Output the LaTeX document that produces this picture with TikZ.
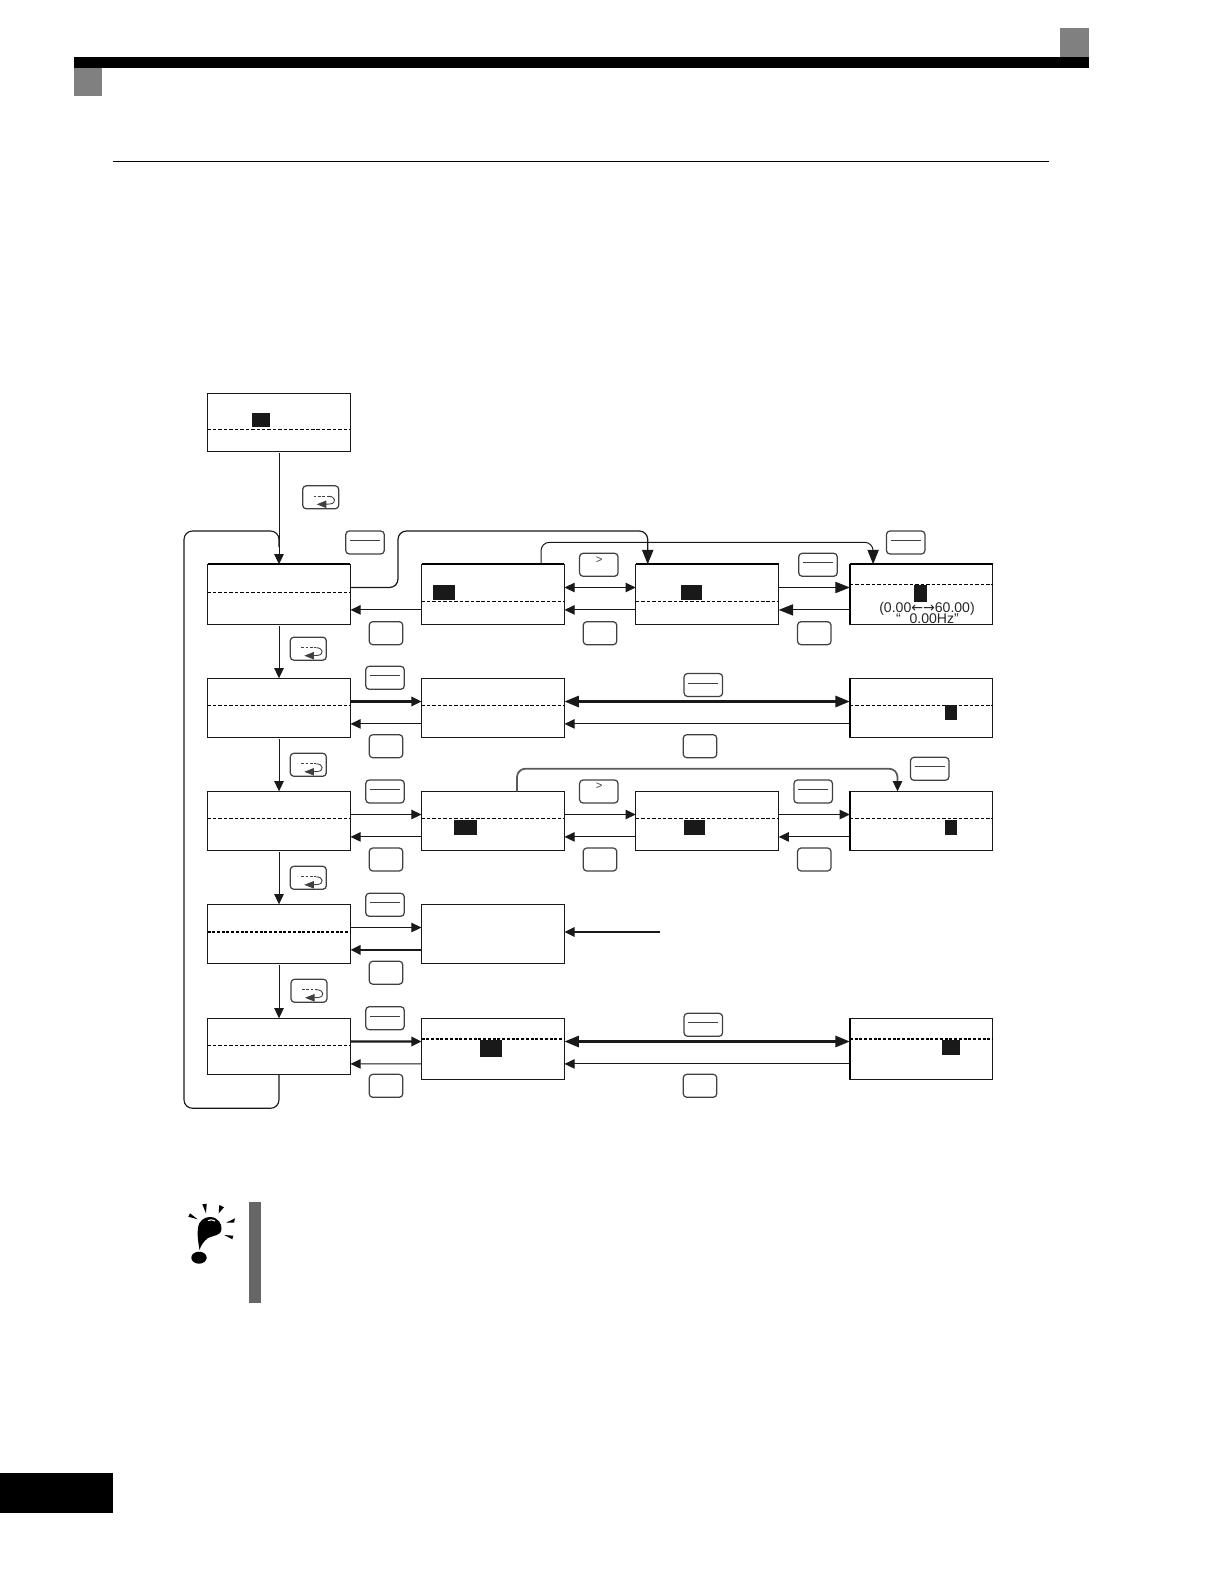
\documentclass[tikz,border=0pt]{standalone}
\usepackage{fontspec}
\setmainfont{Liberation Sans}
\newfontfamily\arrowfont{DejaVu Sans}
\usetikzlibrary{arrows.meta,calc}
\tikzset{
  lcdbox/.style={draw=black!90,line width=0.65pt,inner sep=0pt,outer sep=0pt,minimum width=2.86cm},
  cursorblock/.style={fill=black!90,inner sep=0pt,outer sep=0pt},
  keybox/.style={draw=black!75,line width=0.7pt,rounded corners=0.07cm,inner sep=0pt,outer sep=0pt,minimum height=0.46cm},
  enterkey/.style={keybox,minimum width=0.77cm,path picture={
    \draw[line width=0.5pt,shift={(path picture bounding box.center)}] (-15,-2) -- (15,-2);}},
  esckey/.style={keybox,minimum width=0.67cm},
  rightkey/.style={keybox,minimum width=0.77cm},
  tabkey/.style={keybox,minimum width=0.72cm,path picture={
    \draw[line width=0.5pt,dash pattern=on 1.5pt off 1pt,shift={(path picture bounding box.center)}] (-7,-1) -- (8,-1);
    \draw[line width=0.5pt,-{Triangle[length=5.5pt,width=4.2pt]},shift={(path picture bounding box.center)}] (8,-1)
      .. controls (15,-1) and (16,6) .. (6,7) -- (-4,7);}},
  divline/.style={line width=0.6pt,dash pattern=on 2pt off 1.1pt},
  heavydiv/.style={line width=1.1pt,dash pattern=on 1.7pt off 1pt},
  flow/.style={line width=0.55pt,draw=black!90},
  route/.style={flow,rounded corners=0.17cm},
  bighead/.style={>={Triangle[length=8.2pt,width=6.4pt]}},
  keytext/.style={inner sep=0pt,font=\fontsize{6.5pt}{7pt}\selectfont,text=black!75},
  rangetext/.style={inner sep=0pt,font=\fontsize{8pt}{9pt}\selectfont,text=black!85}
}
\begin{document}
\begin{tikzpicture}[x=0.02cm,y=-0.02cm,>={Triangle[length=5.8pt,width=5.4pt]}]
  \useasboundingbox (0,0) rectangle (1224,1584);
  \def\up{23.2}
  \def\lo{45.6}

  % page furniture
  \fill[black] (74,57) rectangle (1089,68);
  \fill[black!50] (74,68) rectangle (102,96);
  \fill[black!50] (1060,28) rectangle (1089,57);
  \draw[line width=0.7pt] (113,161.3) -- (1049,161.3);
  \fill[black] (0,1473) rectangle (113,1513);

  % display boxes
  \node[lcdbox,minimum height=1.16cm] (top) at (279,422.3) {};
  \foreach \n/\x in {a1/279,a2/493,a3/707.2,a4/921.3}
    \node[lcdbox,minimum height=1.2cm] (\n) at (\x,594.3) {};
  \foreach \n/\x in {b1/279,b2/493,b4/921.3}
    \node[lcdbox,minimum height=1.18cm] (\n) at (\x,707.8) {};
  \foreach \n/\x in {c1/279,c2/493,c3/707.2,c4/921.3}
    \node[lcdbox,minimum height=1.18cm] (\n) at (\x,820.8) {};
  \foreach \n/\x in {d1/279,d2/493}
    \node[lcdbox,minimum height=1.18cm] (\n) at (\x,933.8) {};
  \node[lcdbox,minimum height=1.12cm] (e1) at (279,1046.3) {};
  \foreach \n/\x in {e2/493,e4/921.3}
    \node[lcdbox,minimum height=1.22cm] (\n) at (\x,1048.8) {};

  % heavier edges
  \foreach \n in {a1,a2,a3,a4}
    \draw[line width=1.1pt] (\n.north west) -- (\n.north east);
  \foreach \n in {a4,b4,c4,e4}
    \draw[line width=1pt] (\n.north west) -- (\n.south west);

  % divider in each box
  \foreach \n/\d in {top/36,a1/28,a2/37,a3/37,a4/20,b1/27,b2/27,b4/27,c1/27,c2/27,c3/27,c4/27,e1/27}
    \draw[divline] ($(\n.north west)+(0,\d)$) -- ($(\n.north east)+(0,\d)$);
  \foreach \n/\d in {d1/27.7,e2/20.7,e4/20.7}
    \draw[heavydiv] ($(\n.north west)+(0,\d)$) -- ($(\n.north east)+(0,\d)$);

  % cursor blocks
  \foreach \n/\x/\y/\w/\h in {k0/261/420/18/14,k1/444/592.5/22/15,k2/691.5/592.5/21/15,k3/920.5/593.5/13/17,
      k4/951/712.7/12/15,k5/465.5/827.5/23/15,k6/694.5/827.5/21/15,k7/951/827.5/12/15,k8/491/1048.5/22/17,k9/951/1047.5/18/15}
    \node[cursorblock,minimum width=\w*0.02cm,minimum height=\h*0.02cm] (\n) at (\x,\y) {};

  % keys
  \foreach \x/\y [count=\i] in {365/542.5,818/564.8,905.7/542.5,385/677.8,703.3/685,385/791.5,813.2/791.5,929.7/768.8,385/904.8,385/1018.2,703.3/1024.8}
    \node[enterkey] (ent\i) at (\x,\y) {};
  \foreach \x/\y [count=\i] in {386/633.2,600/633.2,814.3/633.2,386/746.2,700/746.2,386/859.5,600/859.5,814.3/859.5,386/972.7,386/1085.8,700/1085.8}
    \node[esckey] (esc\i) at (\x,\y) {};
  \foreach \x/\y [count=\i] in {320.7/497.3,308.3/648.7,308.3/764.8,308.3/877.8,309/990.8}
    \node[tabkey] (tab\i) at (\x,\y) {};
  \foreach \y [count=\i] in {564.8,791.5} {
    \node[rightkey] (rk\i) at (598.8,\y) {};
    \node[keytext] (rg\i) at ($(rk\i)+(0.5,-5)$) {>};
  }

  % range text
  \node[rangetext] (range) at (927,608.7) {(0.00{\arrowfont ←→}60.00)};
  \node[rangetext] (hz) at (927.5,619) {“\kern5pt0.00Hz”};

  % menu column
  \draw[flow,->,shorten <=0.04cm] (top.south) -- (a1.north);
  \foreach \p/\q in {a1/b1,b1/c1,c1/d1,d1/e1}
    \draw[flow,->,shorten <=0.04cm] (\p.south) -- (\q.north);

  % return loop
  \coordinate (loopsw) at (184,1108.3);
  \coordinate (loopne) at (279,531);
  \draw[route,line width=0.65pt] (e1.south) |- (loopsw) |- (loopne) -- ($(loopne)+(0,16)$);

  % upper arrows
  \foreach \p/\q in {c1/c2,c2/c3,c3/c4,d1/d2}
    \draw[flow,->] ($(\p.north east)+(0,\up)$) -- ($(\q.north west)+(0,\up)$);
  \foreach \p/\q in {b1/b2,e1/e2}
    \draw[flow,->,line width=1.2pt] ($(\p.north east)+(0,\up)$) -- ($(\q.north west)+(0,\up)$);
  \draw[flow,<->] ($(a2.north east)+(0,\up)$) -- ($(a3.north west)+(0,\up)$);
  \draw[flow,->,bighead] ($(a3.north east)+(0,\up)$) -- ($(a4.north west)+(0,\up)$);
  \foreach \p/\q in {b2/b4,e2/e4}
    \draw[flow,<->,bighead,line width=1.2pt] ($(\p.north east)+(0,\up)$) -- ($(\q.north west)+(0,\up)$);

  % lower arrows
  \foreach \p/\q in {a2/a1,a3/a2,b2/b1,b4/b2,c2/c1,c3/c2,c4/c3,e2/e1,e4/e2}
    \draw[flow,->] ($(\p.north west)+(0,\lo)$) -- ($(\q.north east)+(0,\lo)$);
  \draw[flow,->,bighead] ($(a4.north west)+(0,\lo)$) -- ($(a3.north east)+(0,\lo)$);
  \draw[flow,->,line width=1.2pt] ($(d2.north west)+(0,\lo)$) -- ($(d1.north east)+(0,\lo)$);

  % free arrow into d2
  \coordinate (dfree) at (660,932);
  \draw[flow,->,line width=1.2pt] (dfree) -- (d2.east |- dfree);

  % routes over the top
  \coordinate (bendA) at (398,531);
  \draw[route,->,bighead,line width=0.7pt] ($(a1.north east)+(0,\up)$) -| (bendA) -| ($(a3.north west)+(12,0)$);
  \coordinate (bendB) at (560,542.3);
  \draw[route,->,bighead] ($(a2.north west)+(119.5,0)$) |- (bendB) -| ($(a4.north west)+(23.3,0)$);
  \coordinate (bendC) at (700,768.7);
  \draw[route,line width=1pt,draw=black!65] ($(c2.north west)+(95.5,0)$) |- (bendC) -| ($(c4.north west)+(47.7,-8)$);
  \draw[flow,->] ($(c4.north west)+(47.7,-9)$) -- ($(c4.north west)+(47.7,0)$);

  % note icon and bar
  \fill[black!60] (249,1202) rectangle (261,1303);
  \fill (199.5,1250) .. controls (198,1240) and (197,1235) .. (198,1228)
    .. controls (199,1220) and (205,1217) .. (210,1217)
    .. controls (218,1217) and (222,1224) .. (221.5,1229)
    .. controls (221,1236) and (214,1235) .. (208,1238)
    .. controls (204,1241) and (201,1245) .. (199.5,1250) -- cycle;
  \draw[white,line width=0.6pt] (208,1220.5) .. controls (210,1219.5) and (213,1219.5) .. (215,1221);
  \fill (199,1257.7) ellipse (7.7 and 6);
  \fill (188.3,1216.7) -- (190,1213.3) -- (197.7,1219.3) -- cycle;
  \fill (202.3,1204.3) -- (206.7,1203.7) -- (206,1213.3) -- cycle;
  \fill (219.3,1205) -- (224,1207.3) -- (218.7,1213.3) -- cycle;
  \fill (235,1218.3) -- (234,1222.7) -- (226,1222.7) -- cycle;
  \fill (233.3,1235.7) -- (232.3,1239.3) -- (224.3,1235) -- cycle;
\end{tikzpicture}
\end{document}
